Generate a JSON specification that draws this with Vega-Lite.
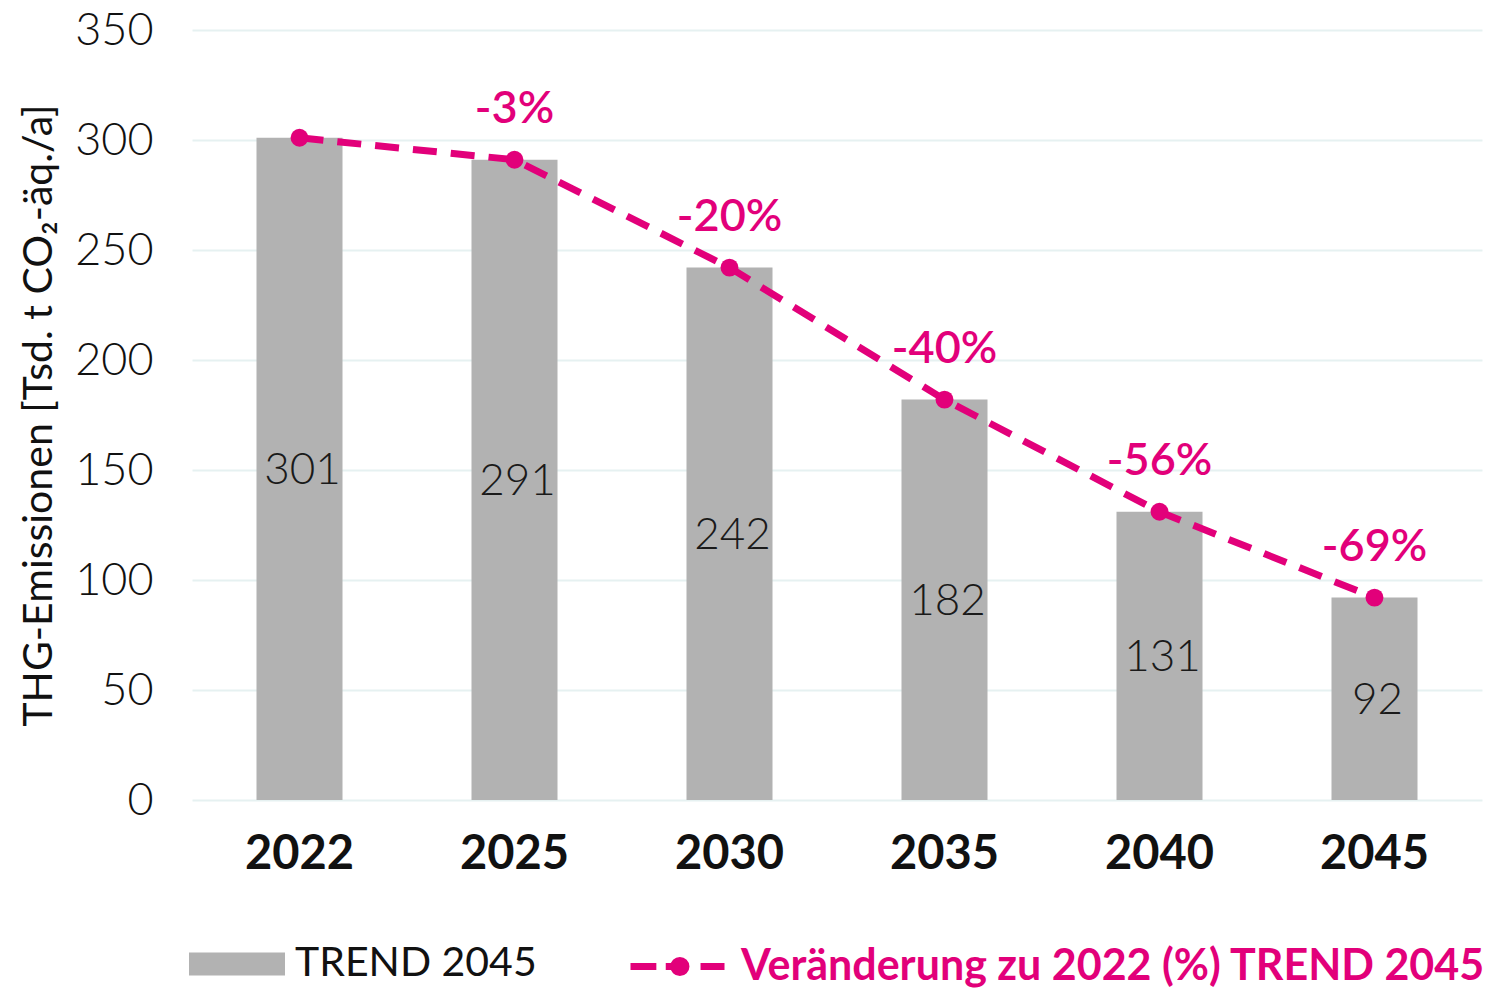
{
  "$schema": "https://vega.github.io/schema/vega-lite/v6.json",
  "autosize": "none",
  "width": 1290,
  "height": 770,
  "padding": {"left": 192, "top": 30, "right": 7, "bottom": 188},
  "background": "white",
  "config": {
    "view": {"stroke": null},
    "font": "Lato",
    "axis": {"domain": false, "ticks": false}
  },
  "data": {
    "values": [
      {"year": "2022", "value": 301, "pct": ""},
      {"year": "2025", "value": 291, "pct": "-3%"},
      {"year": "2030", "value": 242, "pct": "-20%"},
      {"year": "2035", "value": 182, "pct": "-40%"},
      {"year": "2040", "value": 131, "pct": "-56%"},
      {"year": "2045", "value": 92, "pct": "-69%"}
    ]
  },
  "encoding": {
    "x": {
      "field": "year", "type": "ordinal",
      "scale": {"paddingInner": 0.6, "paddingOuter": 0.3},
      "axis": {"title": null, "labelAngle": 0, "labelFont": "Lato", "labelFontSize": 47, "labelFontWeight": "bold", "labelColor": "#111111", "labelPadding": 31, "grid": false}
    }
  },
  "layer": [
    {
      "mark": {"type": "bar", "color": "#b2b2b2"},
      "encoding": {
        "y": {
          "field": "value", "type": "quantitative",
          "scale": {"domain": [0, 350], "nice": false},
          "axis": {
            "title": "THG-Emissionen [Tsd. t CO₂-äq./a]",
            "titleFont": "Lato", "titleFontSize": 41, "titleFontWeight": 400, "titleColor": "#111111", "titlePadding": 14,
            "values": [0, 50, 100, 150, 200, 250, 300, 350],
            "labelFont": "Lato", "labelFontSize": 45, "labelFontWeight": 300, "labelColor": "#111111", "labelPadding": 39,
            "grid": true, "gridColor": "#e6f1f1", "gridWidth": 2
          }
        },
        "fill": {
          "datum": "TREND 2045",
          "scale": {"range": ["#b2b2b2"]},
          "legend": {
            "title": null, "orient": "none", "legendX": -3, "legendY": 886,
            "symbolType": "M-1,-0.24H1V0.24H-1Z", "symbolSize": 9216, "symbolStrokeWidth": 0,
            "labelFont": "Lato", "labelFontSize": 41, "labelFontWeight": 400, "labelColor": "#111111", "labelOffset": 10, "labelLimit": 1000
          }
        }
      }
    },
    {
      "transform": [{"calculate": "datum.value / 2", "as": "mid"}],
      "mark": {"type": "text", "font": "Lato", "fontSize": 44, "fontWeight": 300, "color": "#1a1a1a", "baseline": "middle", "dx": 3, "dy": 2},
      "encoding": {
        "y": {"field": "mid", "type": "quantitative"},
        "text": {"field": "value", "type": "quantitative"}
      }
    },
    {
      "mark": {"type": "line", "strokeWidth": 7},
      "encoding": {
        "y": {"field": "value", "type": "quantitative"},
        "strokeDash": {"datum": "dash", "scale": {"range": [[24, 14]]}, "legend": null},
        "stroke": {
          "datum": "Veränderung zu 2022 (%) TREND 2045",
          "scale": {"range": ["#e2007a"]},
          "legend": {
            "title": null, "orient": "none", "legendX": 435, "legendY": 886,
            "symbolType": "M-1,0H-0.45M-0.25,0H0.2M0.49,0H1M-0.08,0A0.13,0.13,0,1,0,0.18,0A0.13,0.13,0,1,0,-0.08,0Z",
            "symbolSize": 8836, "symbolStrokeWidth": 7, "symbolFillColor": "#e2007a", "symbolStrokeColor": "#e2007a",
            "labelFont": "Lato", "labelFontSize": 43, "labelFontWeight": "bold", "labelColor": "#e2007a", "labelOffset": 13, "labelLimit": 1000
          }
        }
      }
    },
    {
      "mark": {"type": "point", "filled": true, "size": 320, "color": "#e2007a", "opacity": 1},
      "encoding": {
        "y": {"field": "value", "type": "quantitative"}
      }
    },
    {
      "mark": {"type": "text", "font": "Lato", "fontSize": 45, "fontWeight": 600, "color": "#e2007a", "baseline": "middle", "dy": -51},
      "encoding": {
        "y": {"field": "value", "type": "quantitative"},
        "text": {"field": "pct"}
      }
    }
  ]
}
